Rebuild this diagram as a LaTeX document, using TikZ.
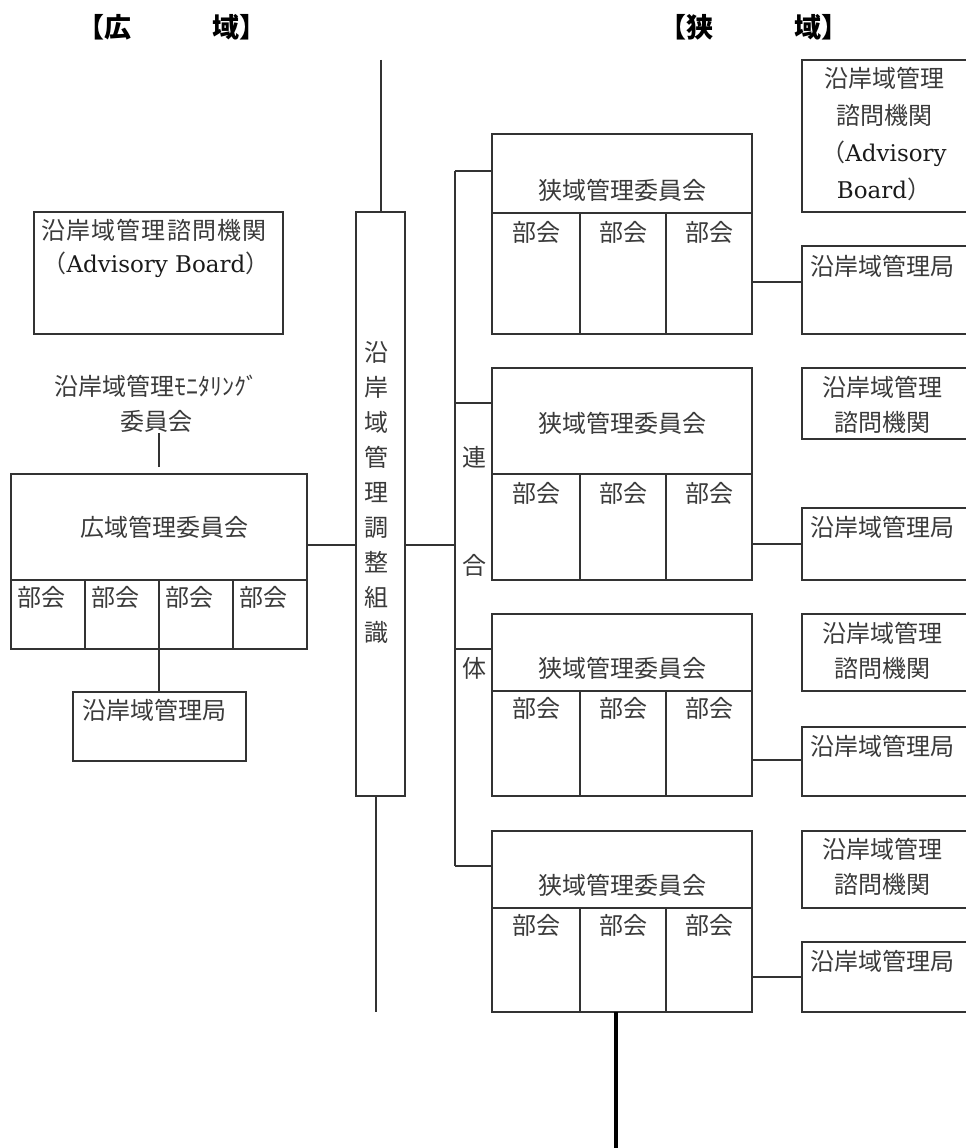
\documentclass[tikz,border=0pt]{standalone}
\usepackage{fontspec}
\setmainfont{Noto Sans CJK JP}
\newfontfamily\lat{DejaVu Serif}
\usetikzlibrary{calc}
\definecolor{lncol}{HTML}{333333}
\definecolor{txcol}{HTML}{3A3A3A}
\definecolor{latcol}{HTML}{1A1A1A}
\newcommand\bx[5]{\node[box, minimum width=#4pt, minimum height=#5pt] (#1) at (#2,#3) {};}
\newcommand\lt[1]{{\lat\fontsize{23}{30}\selectfont\color{latcol}#1}}
\begin{document}
\begin{tikzpicture}[x=1pt,y=-1pt,
  box/.style={draw=lncol, line width=1.3pt, anchor=north west, inner sep=0pt, outer sep=0pt},
  ln/.style={draw=lncol, line width=1.3pt},
  jp/.style={font=\fontsize{24}{35}\selectfont, text=txcol, inner sep=0pt, align=center},
  hd/.style={font=\fontsize{27}{30}\selectfont\bfseries, text=black, inner sep=0pt},
]
\useasboundingbox (0,0) rectangle (966,1148);
\clip (0,0) rectangle (966,1148);
\fill[white] (0,0) rectangle (966,1148);

% headers
\node[hd] (hL) at (172,27) {【広　　　域】};
\node[hd] (hR) at (754,27) {【狭　　　域】};

% left advisory board
\bx{advL}{34}{212}{249}{122}
\node[jp] (advLt1) at (154,230) {\makebox[226pt][s]{沿\hfill 岸\hfill 域\hfill 管\hfill 理\hfill 諮\hfill 問\hfill 機\hfill 関}};
\node[jp] (advLt2) at (156,265) {（\lt{Advisory Board}）};

% monitoring committee
\node[jp] (mon) at (156,404) {沿岸域管理ﾓﾆﾀﾘﾝｸﾞ\\委員会};

% wide-area committee
\bx{wide}{11}{474}{296}{106}
\node[jp] (wideT) at (164,527) {広域管理委員会};
\bx{wc1}{11}{580}{74}{69}
\bx{wc2}{85}{580}{74}{69}
\bx{wc3}{159}{580}{74}{69}
\bx{wc4}{233}{580}{74}{69}
\node[jp, anchor=west] (wc1t) at (17,597) {部会};
\node[jp, anchor=west] (wc2t) at (91,597) {部会};
\node[jp, anchor=west] (wc3t) at (165,597) {部会};
\node[jp, anchor=west] (wc4t) at (239,597) {部会};
\draw[ln] ($(wide.north)+(0,-7)$) -- ($(wide.north)+(0,-41)$);

% wide bureau
\bx{bL}{73}{692}{173}{69}
\node[jp] (bLt) at (154,710) {沿岸域管理局};
\draw[ln] (wc3.south west) -- (wc3.south west |- bL.north);

% coordination organisation
\bx{co}{356}{212}{49}{584}
\node[jp, font=\fontsize{24}{35.1}\selectfont] (coT) at (376,492.5) {沿\\岸\\域\\管\\理\\調\\整\\組\\識};
\coordinate (coTop) at (381,60);
\coordinate (coBot) at (376,1012);
\draw[ln] (coTop) -- (coTop |- co.north);
\draw[ln] (coBot |- co.south) -- (coBot);
\coordinate (cy) at (0,545);
\draw[ln] (wide.east |- cy) -- (co.west |- cy);

% union
\coordinate (uTop) at (455,171);
\coordinate (uBot) at (455,866);
\draw[ln] (uTop) -- (uBot);
\draw[ln] (co.east |- cy) -- (uTop |- cy);
\node[jp] (u1) at (474,457) {連};
\node[jp] (u2) at (474,565) {合};
\node[jp] (u3) at (474,668) {体};

% narrow committees
\bx{n1}{492}{134}{260}{79}
\bx{n1a}{492}{213}{88}{121}
\bx{n1b}{580}{213}{86}{121}
\bx{n1c}{666}{213}{86}{121}
\bx{n2}{492}{368}{260}{106}
\bx{n2a}{492}{474}{88}{106}
\bx{n2b}{580}{474}{86}{106}
\bx{n2c}{666}{474}{86}{106}
\bx{n3}{492}{614}{260}{77}
\bx{n3a}{492}{691}{88}{105}
\bx{n3b}{580}{691}{86}{105}
\bx{n3c}{666}{691}{86}{105}
\bx{n4}{492}{831}{260}{77}
\bx{n4a}{492}{908}{88}{104}
\bx{n4b}{580}{908}{86}{104}
\bx{n4c}{666}{908}{86}{104}

\node[jp] (n1t) at (622,190) {狭域管理委員会};
\node[jp] (n2t) at (622,423) {狭域管理委員会};
\node[jp] (n3t) at (622,668) {狭域管理委員会};
\node[jp] (n4t) at (622,885) {狭域管理委員会};
\foreach \r/\y in {1/232,2/493,3/708,4/925}{
  \node[jp] (n\r at) at (536,\y) {部会};
  \node[jp] (n\r bt) at (623,\y) {部会};
  \node[jp] (n\r ct) at (709,\y) {部会};
}

\draw[ln] (uTop) -- (uTop -| n1.west);
\draw[ln] (uTop |- 0,403) -- (n2.west |- 0,403);
\draw[ln] (uTop |- 0,649) -- (n3.west |- 0,649);
\draw[ln] (uBot) -- (uBot -| n4.west);

% right column
\bx{a1}{802}{60}{178}{152}
\bx{r1}{802}{246}{178}{88}
\bx{a2}{802}{368}{178}{71}
\bx{r2}{802}{508}{178}{72}
\bx{a3}{802}{614}{178}{77}
\bx{r3}{802}{727}{178}{69}
\bx{a4}{802}{831}{178}{77}
\bx{r4}{802}{942}{178}{70}

\node[jp, font=\fontsize{24}{36.7}\selectfont] (a1t) at (884,134) {沿岸域管理\\諮問機関\\（\lt{Advisory}\\\lt{Board}）};
\node[jp] (a2t) at (882,404.5) {沿岸域管理\\諮問機関};
\node[jp] (a3t) at (882,650.5) {沿岸域管理\\諮問機関};
\node[jp] (a4t) at (882,867) {沿岸域管理\\諮問機関};
\node[jp] (r1t) at (882,266) {沿岸域管理局};
\node[jp] (r2t) at (882,527) {沿岸域管理局};
\node[jp] (r3t) at (882,746) {沿岸域管理局};
\node[jp] (r4t) at (882,961) {沿岸域管理局};

\draw[ln] (n1c.east |- 0,282) -- (r1.west |- 0,282);
\draw[ln] (n2c.east |- 0,544) -- (r2.west |- 0,544);
\draw[ln] (n3c.east |- 0,760) -- (r3.west |- 0,760);
\draw[ln] (n4c.east |- 0,977) -- (r4.west |- 0,977);

% thick line
\coordinate (thk) at (616,1148);
\draw[line width=4pt, black] (n4b.south -| thk) -- (thk);
\end{tikzpicture}
\end{document}
